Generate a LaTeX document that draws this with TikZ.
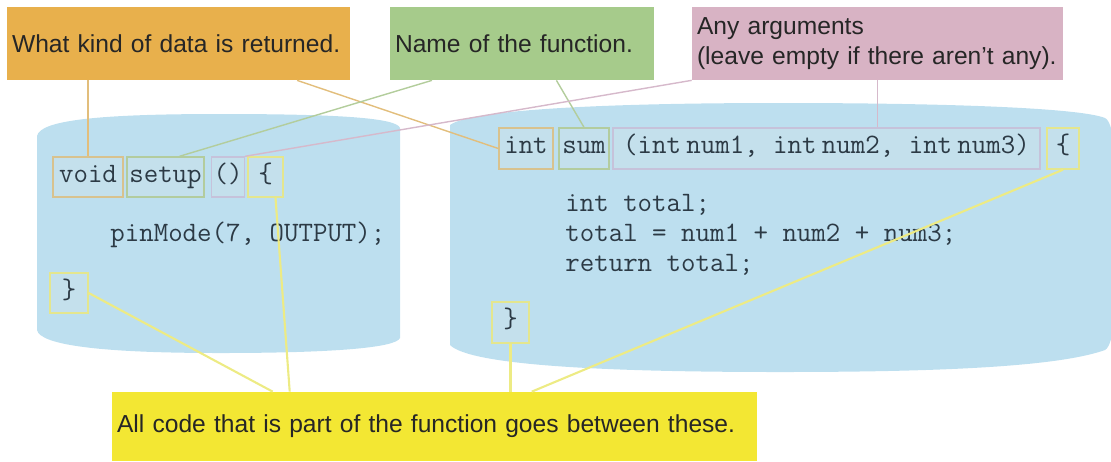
\documentclass[tikz,border=0pt]{standalone}
\usepackage{fontspec}
\setmainfont{Liberation Sans}
\usepackage{tikz}
\usetikzlibrary{positioning,calc}
\definecolor{lblorange}{HTML}{E8B04C}
\definecolor{lblgreen}{HTML}{A6CB8B}
\definecolor{lblpink}{HTML}{D8B3C4}
\definecolor{lblyellow}{HTML}{F3E733}
\definecolor{codebg}{HTML}{BDDFEF}
\definecolor{boxfill}{HTML}{C4E0EC}
\definecolor{typeedge}{HTML}{D8C28E}
\definecolor{nameedge}{HTML}{B3CC9E}
\definecolor{argedge}{HTML}{C6C2DA}
\definecolor{braceedge}{HTML}{E4E68E}
\definecolor{lineorange}{HTML}{E2BE7C}
\definecolor{linegreen}{HTML}{B3CD9C}
\definecolor{linepink}{HTML}{D6B9CB}
\definecolor{lineyellow}{HTML}{EDEB84}
\definecolor{codetext}{HTML}{2C3A45}

\begin{document}
\begin{tikzpicture}[x=0.02cm, y=-0.02cm,
  lbl/.style={inner xsep=0.1cm, minimum height=1.46cm, align=left,
              font=\fontsize{14}{17}\selectfont, text=black!85},
  codebox/.style={draw, line width=0.8pt, fill=boxfill, inner sep=1pt,
                  text height=9pt, text depth=3pt,
                  minimum height=0.8cm, font=\ttfamily\fontsize{16}{17}\selectfont, text=codetext},
  codeline/.style={inner sep=0pt, align=left, anchor=west,
                   font=\ttfamily\fontsize{16}{17}\selectfont, text=codetext},
  link/.style={line width=0.8pt}
]
  \useasboundingbox (0,0) rectangle (1111,461);
  \clip (0,0) rectangle (1111,461);

  % the two code blocks
  \fill[codebg] (37,330) -- (37,136) .. controls (40,120) and (100,114) .. (220,114)
    .. controls (340,114) and (397,118) .. (400,128) -- (400,338)
    .. controls (396,348) and (330,353) .. (220,353)
    .. controls (100,353) and (40,345) .. (37,330) -- cycle;
  \fill[codebg] (450,345) -- (450,125) .. controls (470,110) and (600,103) .. (780,103)
    .. controls (950,103) and (1080,108) .. (1105,118)
    .. controls (1125,126) and (1125,340) .. (1105,350)
    .. controls (1060,366) and (950,372) .. (780,372)
    .. controls (600,372) and (470,365) .. (450,345) -- cycle;

  % labels
  \node[lbl, fill=lblorange, text width=6.66cm] (retlbl)  at (178.5,43.5) {What kind of data is returned.};
  \node[lbl, fill=lblgreen,  text width=5.08cm] (namelbl) at (522,43.5)   {Name of the function.};
  \node[lbl, fill=lblpink,   text width=7.22cm] (arglbl)  at (877.5,43.5) {Any arguments\\(leave empty if there aren't any).};
  \node[lbl, fill=lblyellow, text width=12.7cm, minimum height=1.38cm] (alllbl) at (434.5,426.5)
    {All code that is part of the function goes between these.};

  % setup()
  \node[codebox, draw=typeedge,  minimum width=1.4cm]  (voidkw)  at (88,177)    {void};
  \node[codebox, draw=nameedge,  minimum width=1.54cm] (setupkw) at (165.5,177) {setup};
  \node[codebox, draw=argedge,   minimum width=0.6cm]  (parenkw) at (228,177)   {()};
  \node[codebox, draw=braceedge, minimum width=0.7cm]  (lbraceA) at (265.5,177) {\{};
  \node[codeline] (pinline) at (110,235) {pinMode(7, OUTPUT);};
  \node[codebox, draw=braceedge, minimum width=0.76cm] (rbraceA) at (69,293)    {\}};

  % sum()
  \node[codebox, draw=typeedge,  minimum width=1.08cm, minimum height=0.82cm] (intkw)   at (526,148.5)   {int};
  \node[codebox, draw=nameedge,  minimum width=1.0cm,  minimum height=0.82cm] (sumkw)   at (584,148.5)   {sum};
  \node[codebox, draw=argedge,   minimum width=8.54cm, minimum height=0.82cm] (argskw)  at (826.5,148.5)
    {(int\hspace{3pt}num1, int\hspace{3pt}num2, int\hspace{3pt}num3)};
  \node[codebox, draw=braceedge, minimum width=0.64cm, minimum height=0.82cm] (lbraceB) at (1063,148.5)  {\{};
  \node[codeline] (sumbody) at (565,235) {int total;\\total = num1 + num2 + num3;\\return total;};
  \node[codebox, draw=braceedge, minimum width=0.74cm, minimum height=0.82cm] (rbraceB) at (510.5,322.5) {\}};

  % connectors
  \draw[link, lineorange] (retlbl.south -| voidkw.north) -- (voidkw.north);
  \draw[link, lineorange] ($(retlbl.south west)!0.845!(retlbl.south east)$) -- (intkw.west);
  \draw[link, linegreen] ($(namelbl.south west)!0.16!(namelbl.south east)$) -- ($(setupkw.north)+(14,0)$);
  \draw[link, linegreen] ($(namelbl.south west)!0.63!(namelbl.south east)$) -- (sumkw.north);
  \draw[link, linepink] (arglbl.south west) -- (parenkw.north east);
  \draw[link, linepink] (arglbl.south) -- (arglbl.south |- argskw.north);
  \draw[link, lineyellow, line width=1.2pt] ($(lbraceA.south)+(10,0)$) -- ($(alllbl.north west)+(178,0)$);
  \draw[link, lineyellow, line width=1.2pt] (rbraceA.east) -- ($(alllbl.north west)+(161,0)$);
  \draw[link, lineyellow, line width=1.2pt] (rbraceB.south) -- (rbraceB.south |- alllbl.north);
  \draw[link, lineyellow, line width=1.2pt] (lbraceB.south) -- ($(alllbl.north west)+(420,0)$);
\end{tikzpicture}
\end{document}
